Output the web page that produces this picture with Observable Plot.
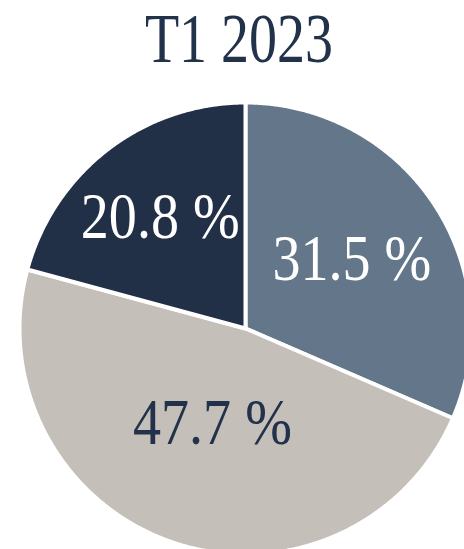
<!DOCTYPE html>
<html>
<head>
<meta charset="utf-8">
<script src="https://cdn.jsdelivr.net/npm/d3@7"></script>
<script src="https://cdn.jsdelivr.net/npm/@observablehq/plot@0.6"></script>
<style>
  html, body { margin: 0; padding: 0; background: #fff; overflow: hidden; }
  #wrap { position: relative; width: 464px; height: 549px; }
  #title { position: absolute; left: 0; top: 4px; width: 478px; text-align: center;
    font-family: "Liberation Serif", serif; font-size: 70px; line-height: 70px;
    color: #22324a; transform: scaleX(0.8); transform-origin: 239px 0; white-space: nowrap; }
  #chart { position: absolute; left: 0; top: 100px; }
</style>
</head>
<body>
<div id="wrap">
  <div id="title">T1 2023</div>
  <div id="chart"></div>
</div>
<script>
const title = "T1 2023";
const slices = ["Slice A", "Slice B", "Slice C"];
const values = [31.5, 47.7, 20.8];
const labels = ["31.5 %", "47.7 %", "20.8 %"];

const pie = d3.pie().sort(null).value(d => d.value)(
  slices.map((s, i) => ({slice: s, value: values[i], label: labels[i]}))
);

const poly = [];
for (const p of pie) {
  poly.push({slice: p.data.slice, x: 0, y: 0});
  const n = Math.max(2, Math.ceil((p.endAngle - p.startAngle) / 0.005));
  for (let k = 0; k <= n; k++) {
    const a = p.startAngle + (p.endAngle - p.startAngle) * k / n;
    poly.push({slice: p.data.slice, x: Math.sin(a), y: Math.cos(a)});
  }
  poly.push({slice: p.data.slice, x: 0, y: 0});
}

// labels at the area centroid of each sector
const labelData = pie.map(p => {
  const th = p.endAngle - p.startAngle;
  const a = (p.startAngle + p.endAngle) / 2;
  const r = 4 * Math.sin(th / 2) / (3 * th);
  return {slice: p.data.slice, label: p.data.label, x: r * Math.sin(a), y: r * Math.cos(a)};
});

const cx = 245, cy = 228, R = 226;
const plot = Plot.plot({
  width: 464,
  height: 449,
  margin: 0,
  x: {domain: [-1, 1], range: [cx - R, cx + R], axis: null},
  y: {domain: [-1, 1], range: [cy + R, cy - R], axis: null},
  color: {domain: slices, range: ["#64778a", "#c5bfba", "#223047"]},
  style: {background: "transparent", overflow: "hidden"},
  marks: [
    Plot.line(poly, {x: "x", y: "y", z: "slice", fill: "slice", stroke: "white", strokeWidth: 4, strokeLinejoin: "round", curve: "linear"}),
    Plot.text(labelData, {x: "x", y: "y", text: "label",
      fill: d => d.slice === "Slice B" ? "#22324a" : "#ffffff",
      fontSize: 66, fontFamily: "Liberation Serif", textAnchor: "middle", lineAnchor: "middle", className: "pielabels"})
  ]
});
document.getElementById("chart").appendChild(plot);
plot.querySelectorAll("g.pielabels text, .pielabels text").forEach(el => {
  const t = el.getAttribute("transform");
  if (t) el.setAttribute("transform", t + " scale(0.85,1)");
  else {
    const x = el.getAttribute("x") || 0, y = el.getAttribute("y") || 0;
    el.setAttribute("x", 0); el.setAttribute("y", 0);
    el.setAttribute("transform", `translate(${x},${y}) scale(0.85,1)`);
  }
});
</script>
</body>
</html>
